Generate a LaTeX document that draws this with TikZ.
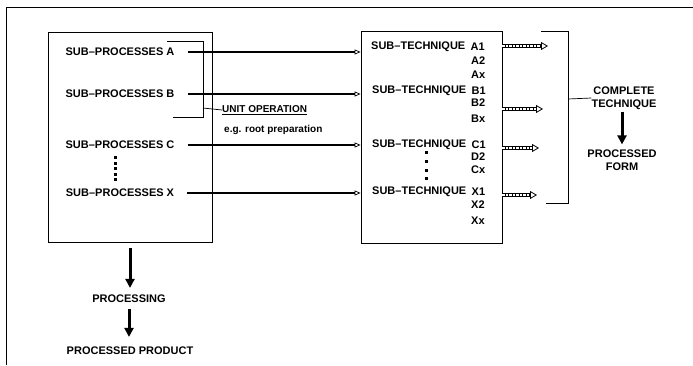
\documentclass[tikz,border=0pt]{standalone}
\usepackage{fontspec}
\setmainfont{Liberation Sans}
\usetikzlibrary{arrows.meta,positioning,calc}
\tikzset{
  stagebox/.style={draw,line width=0.8pt,inner sep=0pt},
  itemlabel/.style={font=\bfseries\fontsize{11}{13}\selectfont,inner sep=0pt},
  notelabel/.style={font=\bfseries\fontsize{10}{12}\selectfont,inner sep=0pt,anchor=west},
  feedarrow/.style={-{Triangle[open,length=6pt,width=5pt,line width=0.7pt]},line width=2pt},
  outarrow/.style={draw=white,line width=1.3pt,dash pattern=on 2.5pt off 1pt,shorten >=6.5pt,
    preaction={draw=black,line width=3.4pt,shorten >=6.5pt}},
  outtip/.style={-{Triangle[open,length=7pt,width=8pt,line width=0.8pt]},line width=0.8pt},
  flowarrow/.style={-{Triangle[length=9pt,width=9pt]},line width=3pt},
  bracketline/.style={line width=0.7pt}
}

\begin{document}
\begin{tikzpicture}[x=1pt,y=-1pt]
  \useasboundingbox (0,0) rectangle (693,365);
  \draw[line width=0.8pt] (693,7) -- (6,7) -- (6,365);

  % the two stages
  \node[stagebox,minimum width=164pt,minimum height=210pt] (procbox) at (130,137) {};
  \node[stagebox,minimum width=141pt,minimum height=212pt] (techbox) at (431.5,137) {};

  \node[itemlabel] (subA) at (120,52) {SUB--PROCESSES A};
  \node[itemlabel] (subB) at (120,94) {SUB--PROCESSES B};
  \node[itemlabel] (subC) at (120,145) {SUB--PROCESSES C};
  \node[itemlabel] (subX) at (120,193) {SUB--PROCESSES X};
  \foreach \y in {156,161.5,167,172.5,178} \fill (113.5,\y) rectangle +(3,3);

  \draw[feedarrow] ([xshift=13pt]subA.east) -- (subA.east -| techbox.west);
  \draw[feedarrow] ([xshift=13pt]subB.east) -- (subB.east -| techbox.west);
  \draw[feedarrow] ([xshift=13pt]subC.east) -- (subC.east -| techbox.west);
  \draw[feedarrow] ([xshift=13pt]subX.east) -- (subX.east -| techbox.west);

  % unit operation bracket
  \node[notelabel] (unitop) at (222,110) {\underline{UNIT OPERATION}};
  \node[notelabel] (example) at (224,130) {e.g. root preparation};
  \draw[bracketline] (167,41) -| (203,117) -- (173,117);
  \draw[bracketline] (203,108) -- (unitop.west);

  % sub-techniques
  \node[itemlabel,anchor=west] (techA) at (371,47) {SUB--TECHNIQUE};
  \node[itemlabel,right=5pt of techA] (a1) {A1};
  \node[itemlabel,anchor=west] (a2) at (471,61) {A2};
  \node[itemlabel,anchor=west] (ax) at (471,75) {Ax};
  \node[itemlabel,anchor=west] (techB) at (372,91) {SUB--TECHNIQUE};
  \node[itemlabel,right=5pt of techB] (b1) {B1};
  \node[itemlabel,anchor=west] (b2) at (471,103) {B2};
  \node[itemlabel,anchor=west] (bx) at (471,119) {Bx};
  \node[itemlabel,anchor=west] (techC) at (372,145) {SUB--TECHNIQUE};
  \node[itemlabel,right=5pt of techC] (c1) {C1};
  \node[itemlabel,anchor=west] (d2) at (471,157) {D2};
  \node[itemlabel,anchor=west] (cx) at (471,170) {Cx};
  \node[itemlabel,anchor=west] (techX) at (372,192) {SUB--TECHNIQUE};
  \node[itemlabel,right=5pt of techX] (x1) {X1};
  \node[itemlabel,anchor=west] (x2) at (471,205) {X2};
  \node[itemlabel,anchor=west] (xx) at (471,221) {Xx};
  \foreach \y in {151,160,169,177} \fill (424.5,\y) rectangle +(3,3);

  \coordinate (tipA) at (548,46);
  \coordinate (tipB) at (543,109);
  \coordinate (tipC) at (539,148);
  \coordinate (tipX) at (537,195);
  \draw[outarrow] (tipA -| techbox.east) -- (tipA);
  \draw[outarrow] (tipB -| techbox.east) -- (tipB);
  \draw[outarrow] (tipC -| techbox.east) -- (tipC);
  \draw[outarrow] (tipX -| techbox.east) -- (tipX);
  \foreach \t in {tipA,tipB,tipC,tipX}
    \draw[outtip] ([xshift=-7pt]\t) -- (\t);

  % complete technique
  \node[itemlabel,align=center] (complete) at (624,98) {COMPLETE\\TECHNIQUE};
  \node[itemlabel,align=center] (form) at (622,160) {PROCESSED\\FORM};
  \draw[bracketline] (541,31) -| (568,203) -- (546,203);
  \draw[bracketline] (568,99) -- (complete.west);
  \draw[flowarrow,shorten <=2pt,shorten >=5pt] (complete.south -| form) -- (form.north);

  % processing chain
  \node[itemlabel] (processing) at (129,299) {PROCESSING};
  \node[itemlabel] (product) at (130,351) {PROCESSED PRODUCT};
  \draw[flowarrow,shorten <=6pt,shorten >=7pt] (procbox.south) -- (procbox.south |- processing.north);
  \draw[flowarrow,shorten <=6pt,shorten >=10pt] (processing.south) -- (processing.south |- product.north);
\end{tikzpicture}
\end{document}
